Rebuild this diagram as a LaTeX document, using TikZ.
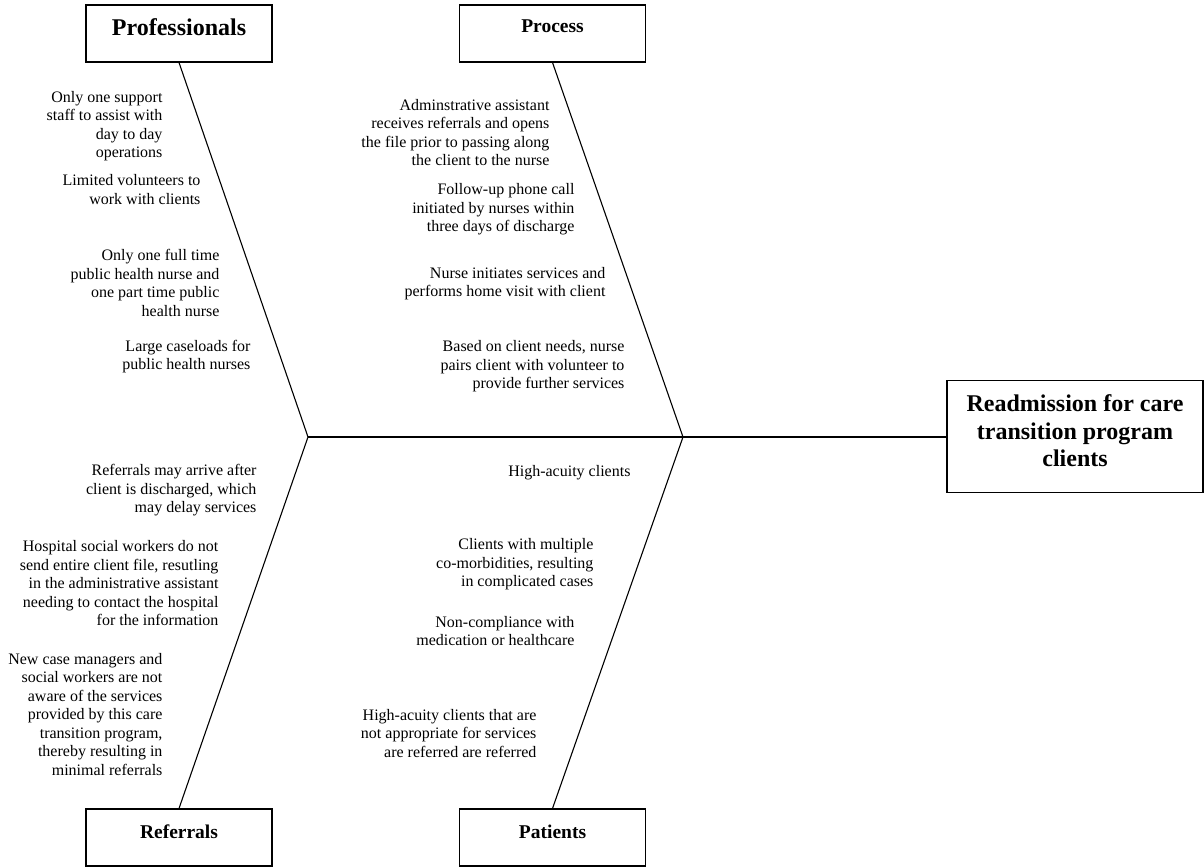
\documentclass[tikz,border=0pt]{standalone}
\usepackage{fontspec}
\setmainfont{Liberation Serif}
\usepackage{tikz}
\usetikzlibrary{positioning}

\tikzset{
  cause/.style={anchor=east, align=right, inner sep=0pt, font=\fontsize{16}{18.5}\selectfont},
  catbox/.style={draw, inner sep=0pt, minimum width=186pt, font=\bfseries\fontsize{19.5}{22}\selectfont}
}

\begin{document}
\begin{tikzpicture}[x=1pt, y=-1pt, line width=1.1pt]

% Frame
\useasboundingbox (0,0) rectangle (1204,867);

% Category boxes
\node[catbox, font=\bfseries\fontsize{24}{27}\selectfont, text height=31pt, text depth=26pt] (prof) at (179,33.5) {Professionals};
\node[catbox, text height=28pt, text depth=29pt] (proc) at (552.5,33.5) {Process};
\node[catbox, text height=29pt, text depth=28pt] (ref) at (179,837.5) {Referrals};
\node[catbox, text height=29pt, text depth=28pt] (pat) at (552.5,837.5) {Patients};

% Head (effect)
\node[draw, inner sep=0pt, minimum width=256pt, text height=59pt, text depth=52.5pt,
      font=\bfseries\fontsize{24}{27.5}\selectfont] (head) at (1075,436.5)
  {\begin{tabular}{@{}c@{}}Readmission for care\\transition program\\clients\end{tabular}};

% Spine and bones
\coordinate (j1) at (308,437);
\coordinate (j2) at (683,437);
\draw (j1) -- (j1 -| head.west);
\draw (prof.south) -- (j1);
\draw (proc.south) -- (j2);
\draw (ref.north) -- (j1);
\draw (pat.north) -- (j2);

% Professionals
\node[cause] (pr1) at (163,126) {Only one support\\staff to assist with\\day to day\\operations};
\node[cause] (pr2) at (201,189.5) {Limited volunteers to\\work with clients};
\node[cause] (pr3) at (220,283) {Only one full time\\public health nurse and\\one part time public\\health nurse};
\node[cause] (pr4) at (251,356.5) {Large caseloads for\\public health nurses};

% Process
\node[cause] (ps1) at (550,132.5) {Adminstrative assistant\\receives referrals and opens\\the file prior to passing along\\the client to the nurse};
\node[cause] (ps2) at (575,209.5) {Follow-up phone call\\initiated by nurses within\\three days of discharge};
\node[cause] (ps3) at (606,283.5) {Nurse initiates services and\\performs home visit with client};
\node[cause] (ps4) at (625,366.5) {Based on client needs, nurse\\pairs client with volunteer to\\provide further services};

% Referrals
\node[cause] (rf1) at (257,490.5) {Referrals may arrive after\\client is discharged, which\\may delay services};
\node[cause] (rf2) at (219,583.5) {Hospital social workers do not\\send entire client file, resutling\\in the administrative assistant\\needing to contact the hospital\\for the information};
\node[cause] (rf3) at (163,714.5) {New case managers and\\social workers are not\\aware of the services\\provided by this care\\transition program,\\thereby resulting in\\minimal referrals};

% Patients
\node[cause] (pt1) at (631,473) {High-acuity clients};
\node[cause] (pt2) at (594,564.5) {Clients with multiple\\co-morbidities, resulting\\in complicated cases};
\node[cause] (pt3) at (575,631) {Non-compliance with\\medication or healthcare};
\node[cause] (pt4) at (537,733.5) {High-acuity clients that are\\not appropriate for services\\are referred are referred};

\end{tikzpicture}
\end{document}
